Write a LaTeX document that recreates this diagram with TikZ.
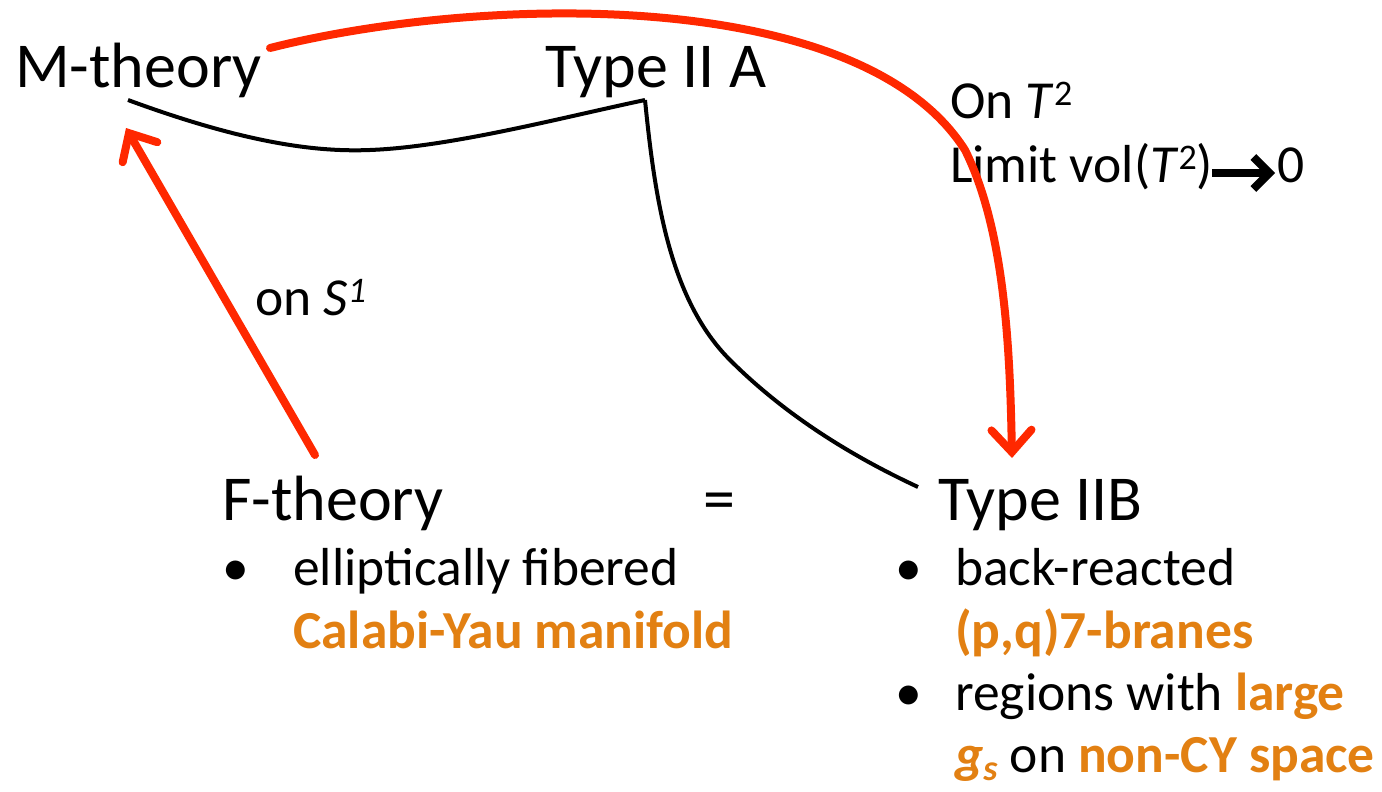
\documentclass[tikz,border=0pt]{standalone}
\usepackage{fontspec}
\setmainfont{Carlito}
\usetikzlibrary{arrows.meta}
\definecolor{redarr}{RGB}{255,40,0}
\definecolor{orng}{RGB}{226,128,18}
\tikzset{
  title/.style={anchor=base west,inner sep=0pt,font=\fontsize{64}{70}\selectfont},
  body/.style={anchor=base west,inner sep=0pt,font=\fontsize{53.5}{60}\selectfont},
  redline/.style={draw=redarr,line width=8pt,line cap=round,-{Straight Barb[length=22pt,width=40pt,line width=8pt,line cap=round]}},
  blackline/.style={draw=black,line width=4pt},
}
\newcommand{\hl}[1]{\textcolor{orng}{\bfseries #1}}
\newcommand{\mysup}[1]{\raisebox{13pt}{\fontsize{36}{40}\selectfont #1}}
\newcommand{\mysub}[1]{\raisebox{-8pt}{\fontsize{36}{40}\selectfont #1}}
\begin{document}
\begin{tikzpicture}[x=1pt,y=-1pt]
\useasboundingbox (0,0) rectangle (1382,792);
\node[title] (mth) at (15,88) {M-theory};
\node[title] (t2a) at (545,88) {Type II A};
\node[title] (fth) at (222,520) {F-theory};
\node[title] (eq) at (703,520) {=};
\node[title] (t2b) at (938,520) {Type IIB};
\node[body] (ont) at (950,118) {On \textit{T}\mysup{2}};
\node[body] (lim) at (950,182) {Limit vol(\textit{T}\mysup{2})};
\node[body] (zero) at (1277,182) {0};
\node[body] (ons) at (255,315) {on \textit{S\mysup{1}}};
\node[body] (b1) at (222,585) {•};
\node[body] (l1) at (293,585) {elliptically fibered};
\node[body] (l2) at (293,648) {\hl{Calabi-Yau manifold}};
\node[body] (b2) at (895,585) {•};
\node[body] (r1) at (955,585) {back-reacted};
\node[body] (r2) at (955,648) {\hl{(p,q)7-branes}};
\node[body] (b3) at (895,710) {•};
\node[body] (r3) at (955,710) {regions with \hl{large}};
\node[body] (r4) at (955,772) {\hl{\textit{g}\mysub{\textit{s}}} on \hl{non-CY space}};
% coordinates
\coordinate (mA) at (128,100);
\coordinate (aA) at (645,100);
\coordinate (bB) at (918,487);
\coordinate (mR) at (270,48);
\coordinate (bR) at (1012,458);
\coordinate (fR) at (315,455);
\coordinate (mT) at (126,128);
\coordinate (limA) at (1212,173);
\coordinate (limB) at (1275,173);
% black curves
\draw[blackline] (mA) .. controls (250,145) and (320,152) .. (370,150) .. controls (450,147) and (560,118) .. (aA);
\draw[blackline] (aA) .. controls (655,200) and (670,300) .. (730,360) .. controls (790,420) and (860,460) .. (bB);
% red arrows
\draw[redline] (mR) .. controls (480,-5) and (860,-15) .. (965,150) .. controls (1005,230) and (1010,350) .. (bR);
\draw[redline] (fR) -- (mT);
% limit arrow
\draw[line width=8pt,-{Straight Barb[length=16pt,width=32pt,line width=8pt]}] (limA) -- (limB);
\end{tikzpicture}
\end{document}
